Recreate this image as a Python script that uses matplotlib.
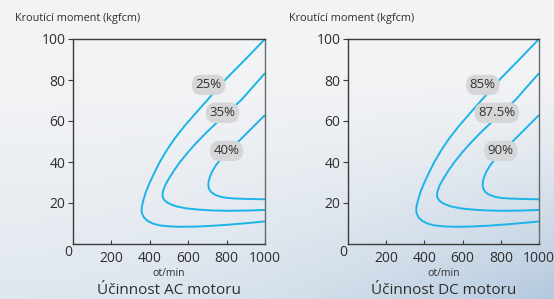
import numpy as np
import matplotlib
matplotlib.use("Agg")
import matplotlib.pyplot as plt
from matplotlib.colors import to_rgb

plt.rcParams['font.family'] = ['Open Sans', 'DejaVu Sans']

# ---- data ----
x_ticks = [200, 400, 600, 800, 1000]
y_ticks = [20, 40, 60, 80, 100]

c1_x = [1000, 900, 800, 731, 650, 580, 530, 490, 455, 425, 400, 380, 367, 359, 357, 361, 370, 388, 415, 450, 500, 560, 640, 730, 820, 910, 1000]
c1_y = [100, 90.3, 80.8, 73.5, 65.0, 57.5, 51.5, 46.0, 40.5, 35.0, 30.0, 25.5, 21.5, 18.5, 16.3, 14.5, 12.9, 11.3, 10.0, 9.1, 8.6, 8.4, 8.5, 8.9, 9.5, 10.2, 11.0]

c2_x = [1000, 940, 878, 810, 750, 695, 645, 600, 560, 527, 500, 481, 470, 466, 468, 477, 493, 515, 545, 590, 650, 720, 800, 900, 1000]
c2_y = [83.3, 77.0, 70.4, 64.5, 59.3, 54.4, 49.6, 44.9, 40.3, 36.0, 32.0, 28.8, 26.2, 24.3, 22.7, 21.3, 20.1, 19.1, 18.2, 17.4, 16.8, 16.4, 16.2, 16.3, 16.6]

c3_x = [1000, 926, 852, 805, 770, 743, 724, 712, 706, 705, 709, 718, 731, 748, 770, 800, 840, 900, 1000]
c3_y = [62.9, 56.0, 49.1, 45.0, 41.5, 38.2, 35.2, 32.5, 30.3, 28.4, 26.8, 25.5, 24.5, 23.7, 23.0, 22.5, 22.2, 22.0, 21.8]

curves_x = [c1_x, c2_x, c3_x]
curves_y = [c1_y, c2_y, c3_y]

labels_ac = ['25%', '35%', '40%']
labels_dc = ['85%', '87.5%', '90%']
label_pos_x = [706, 779, 800]
label_pos_y = [77.6, 64.0, 45.4]

titles = ['Účinnost AC motoru', 'Účinnost DC motoru']
ylabel_text = 'Kroutící moment (kgfcm)'
xlabel_text = 'ot/min'

# ---- figure ----
W, H = 554, 299
fig = plt.figure(figsize=(W / 100, H / 100), dpi=100)

# background gradient
bg = fig.add_axes([0, 0, 1, 1], zorder=-10)
yy, xx = np.mgrid[0:H, 0:W]
t = yy / (H - 1)
s = xx / (W - 1)
top = np.array(to_rgb('#f2f3f5'))
bl = np.array(to_rgb('#dfe7ef'))
br = np.array(to_rgb('#b3c9de'))
w = np.clip((t - 0.25) / 0.75, 0, 1)[..., None] ** 1.3
bottom = bl * (1 - s[..., None] ** 2) + br * s[..., None] ** 2
img = top * (1 - w) + bottom * w
bg.imshow(img, aspect='auto', extent=[0, 1, 0, 1], origin='upper')
bg.set_axis_off()

line_color = '#1cb4e8'
text_color = '#2e2e2e'
spine_color = '#3a3a3a'

panels = [
    (73, 265, labels_ac, titles[0], 15),
    (348, 539, labels_dc, titles[1], 289),
]
top_px, bot_px = 39, 244

for (lpx, rpx, labs, title, ylx) in panels:
    ax = fig.add_axes([lpx / W, 1 - bot_px / H, (rpx - lpx) / W, (bot_px - top_px) / H])
    ax.patch.set_alpha(0)
    for cx, cy in zip(curves_x, curves_y):
        ax.plot(cx, cy, color=line_color, lw=1.4, solid_capstyle='butt',
                solid_joinstyle='round', clip_on=False)
    for lab, lx, ly in zip(labs, label_pos_x, label_pos_y):
        ax.text(lx, ly, lab, ha='center', va='center', fontsize=9.5, color='#333333',
                bbox=dict(boxstyle='round,pad=0.28,rounding_size=0.75', fc='#d5d6d8', ec='none'),
                zorder=5)
    ax.set_xlim(0, 1000)
    ax.set_ylim(0, 100)
    ax.set_xticks(x_ticks)
    ax.set_yticks(y_ticks)
    ax.tick_params(axis='x', direction='in', length=3, width=0.8, pad=5, labelsize=10,
                   colors=spine_color, labelcolor=text_color)
    ax.tick_params(axis='y', direction='out', length=3.5, width=0.8, pad=2, labelsize=10,
                   colors=spine_color, labelcolor=text_color)
    for sp in ax.spines.values():
        sp.set_color(spine_color)
        sp.set_linewidth(1.0)
    ax.spines['right'].set_color('#6a6a6a')
    ax.text(-0.006, -0.005, '0', transform=ax.transAxes, ha='right', va='top',
            fontsize=10, color=text_color)
    cx_fig = (lpx + rpx) / 2 / W
    fig.text(cx_fig, 1 - 273 / H, xlabel_text, ha='center', va='center', fontsize=7.5, color=text_color)
    fig.text(cx_fig, 1 - 291 / H, title, ha='center', va='center', fontsize=11, color=text_color)
    fig.text(ylx / W, 1 - 19 / H, ylabel_text, ha='left', va='center', fontsize=7.8, color=text_color)

fig.savefig('out.png', dpi=100)
